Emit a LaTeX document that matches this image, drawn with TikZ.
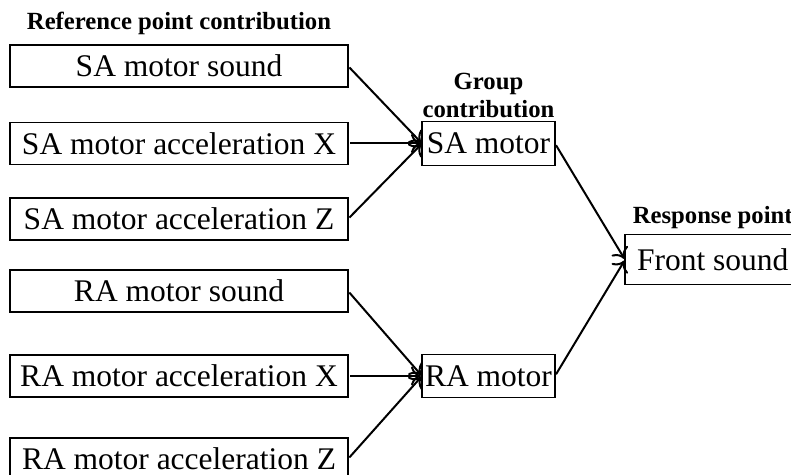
\documentclass[tikz,border=0pt]{standalone}
\usepackage{fontspec}
\setmainfont{Liberation Serif}
\usetikzlibrary{arrows,arrows.meta}
\usetikzlibrary{positioning,calc}

\begin{document}
\begin{tikzpicture}[%
        x=0.5pt, y=0.5pt,
        box/.style={draw, rectangle, line width=0.7pt, inner sep=0pt, outer sep=0pt, minimum height=21pt, font=\fontsize{15.75}{18}\selectfont},
        refbox/.style={box, minimum width=169pt},
        groupbox/.style={box, minimum width=66.5pt, minimum height=21.75pt},
        title/.style={inner sep=0pt, align=center, font=\fontsize{12.35}{14}\selectfont\bfseries},
        >={To[length=5pt, width=9.5pt]},
        shorten >=0.5pt, shorten <=1pt
      ]
      \useasboundingbox (0,0) rectangle (791,-475);
      \node [refbox] (1) at (179,-66) {SA motor sound};
      \node [refbox] (2) [below=17.75pt of 1] {SA motor acceleration X};
      \node [refbox] (3) [below=16.75pt of 2] {SA motor acceleration Z};
      \node [refbox] (4) [below=15pt of 3] {RA motor sound};
      \node [refbox] (5) [below=21.5pt of 4] {RA motor acceleration X};
      \node [refbox] (6) [below=20.5pt of 5] {RA motor acceleration Z};
      \node [groupbox] (7) [right=37pt of 2] {SA motor};
      \node [groupbox] (8) [right=37pt of 5] {RA motor};
      \coordinate (m) at ($(7.east)!0.5!(8.east)$);
      \node [box] (9) [minimum height=25pt, inner xsep=6pt, right=35pt of m] {Front sound};
      \node [title] (10) [above=5pt of 1] {Reference point contribution};
      \node [title] (11) [above=2pt of 7] {Group\\contribution};
      \node [title] (12) [above=3pt of 9] {Response point};
      \path [draw, line width=1pt] (1.east) edge[->] (7.west)
      (2.east) edge[->] (7.west)
      (3.east) edge[->] (7.west)
      (4.east) edge[->] (8.west)
      (5.east) edge[->] (8.west)
      (6.east) edge[->] (8.west)
      (7.east) edge[->] (9.west)
      (8.east) edge[->] (9.west);
    \end{tikzpicture}
\end{document}
